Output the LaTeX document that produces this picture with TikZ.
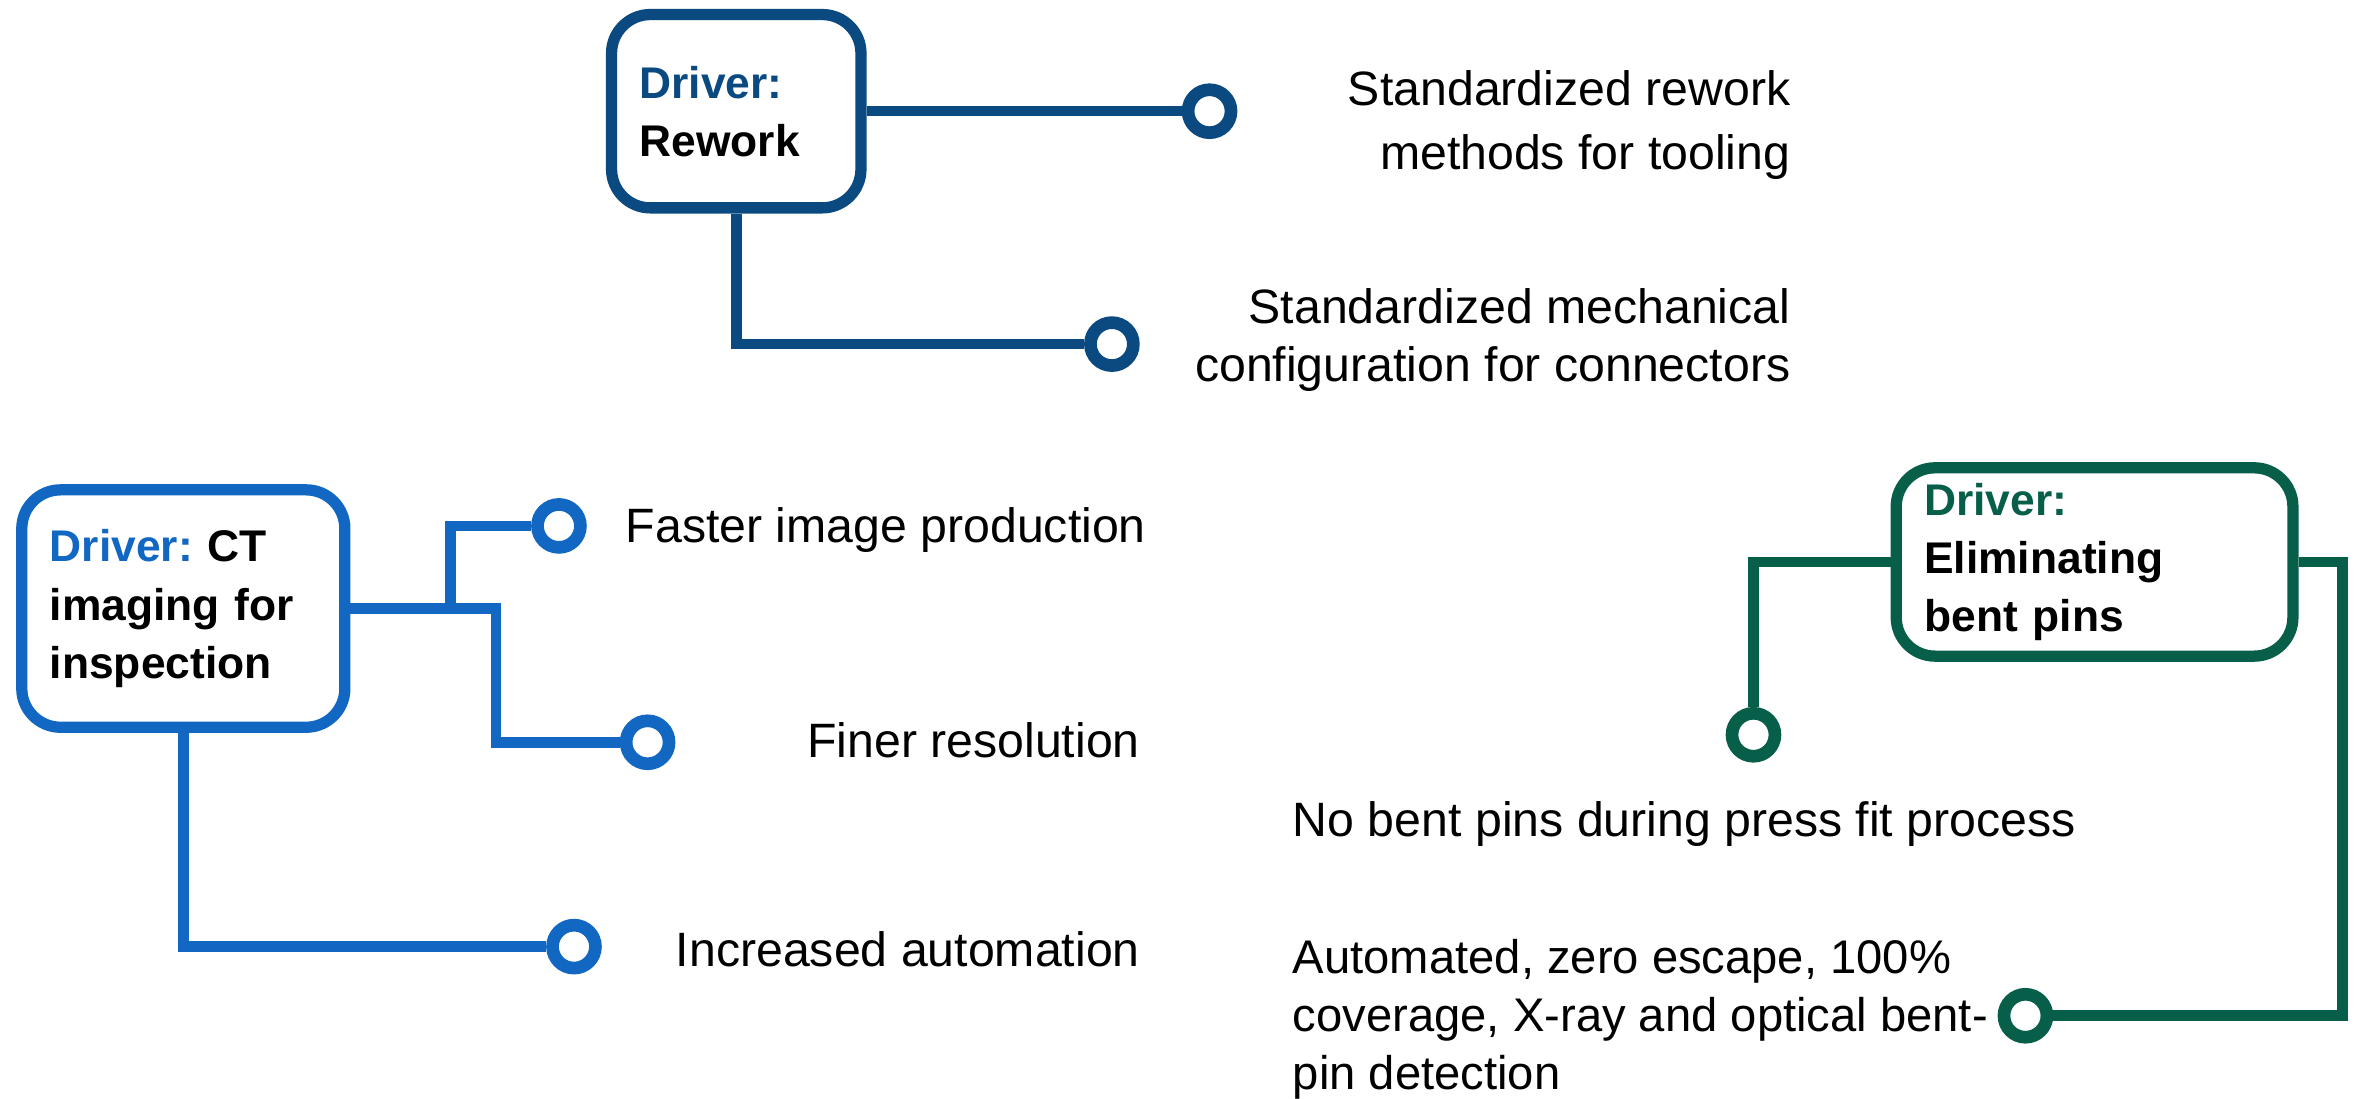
\documentclass[tikz,border=0pt]{standalone}
\usepackage{fontspec}
\setmainfont{Liberation Sans}
\usepackage{xcolor}
\usetikzlibrary{positioning, calc}
\definecolor{reworkblue}{HTML}{0B4A80}
\definecolor{ctblue}{HTML}{1167C1}
\definecolor{pingreen}{HTML}{075F4A}
\tikzset{
  driver/.style={rectangle, draw=#1, line width=3.2pt, rounded corners=11pt, fill=white, align=left, inner xsep=0.28cm, font=\fontsize{12.6}{16.5}\selectfont\bfseries},
  pin/.style={circle, draw=#1, line width=3.6pt, fill=white, minimum size=12.2pt, inner sep=0pt},
  link/.style={draw=#1, line width=3pt},
  item/.style={inner sep=0pt, font=\fontsize{13.7}{16.6}\selectfont},
}
\frenchspacing

\begin{document}
\begin{tikzpicture}[x=0.015cm, y=-0.015cm]
  \useasboundingbox (0,0) rectangle (1568,731);

  % Driver boxes
  \node[driver=reworkblue, text width=1.93cm, minimum height=1.93cm] (rework) at (490,74)
    {\textcolor{reworkblue}{Driver:}\\Rework};
  \node[driver=ctblue, text width=2.665cm, minimum height=2.37cm] (ctimg) at (122,405)
    {\textcolor{ctblue}{Driver:} CT\\imaging for\\inspection};
  \node[driver=pingreen, text width=3.40cm, minimum height=1.88cm] (bentpins) at (1394,374)
    {\textcolor{pingreen}{Driver:}\\Eliminating\\bent pins};

  % Pins at the end of each branch
  \node[pin=reworkblue] (rw1) at (805,74) {};
  \node[pin=reworkblue] (rw2) at (740,229) {};
  \node[pin=ctblue] (ct1) at (372,350) {};
  \node[pin=ctblue] (ct2) at (431,494) {};
  \node[pin=ctblue] (ct3) at (382,630) {};
  \node[pin=pingreen] (bp1) at (1167,489) {};
  \node[pin=pingreen] (bp2) at (1348,676) {};

  % Branches
  \draw[link=reworkblue] (rework) -- (rw1);
  \draw[link=reworkblue] (rework.south) |- (rw2);

  \coordinate (ctsplit) at (300,405);
  \coordinate (ctbend) at (330,405);
  \draw[link=ctblue] (ctsplit) |- (ct1);
  \draw[link=ctblue] (ctimg.east) -- (ctbend) |- (ct2);
  \draw[link=ctblue] (ctimg.south) |- (ct3);

  \coordinate (bpturn) at (1559,374);
  \draw[link=pingreen] (bentpins.west) -| (bp1);
  \draw[link=pingreen] (bentpins.east) -- (bpturn) |- (bp2);

  % Item texts (base anchor sits on the last line)
  \node[item, align=right, anchor=base east, font=\fontsize{13.7}{18.4}\selectfont] (rwtxt1) at (1192,113)
    {Standardized rework\\methods for tooling};
  \node[item, align=right, anchor=base east] (rwtxt2) at (1192,254)
    {Standardized mechanical\\configuration for connectors};
  \node[item, anchor=base west] (cttxt1) at (416,361) {Faster image production};
  \node[item, anchor=base east] (cttxt2) at (759,504) {Finer resolution};
  \node[item, anchor=base east] (cttxt3) at (759,643) {Increased automation};
  \node[item, anchor=base west] (bptxt1) at (860,557) {No bent pins during press fit process};
  \node[item, align=left, anchor=base west, font=\fontsize{13.4}{16.4}\selectfont] (bptxt2) at (860,725)
    {Automated, zero escape, 100\%\\coverage, X-ray and optical bent-\\pin detection};
\end{tikzpicture}
\end{document}
